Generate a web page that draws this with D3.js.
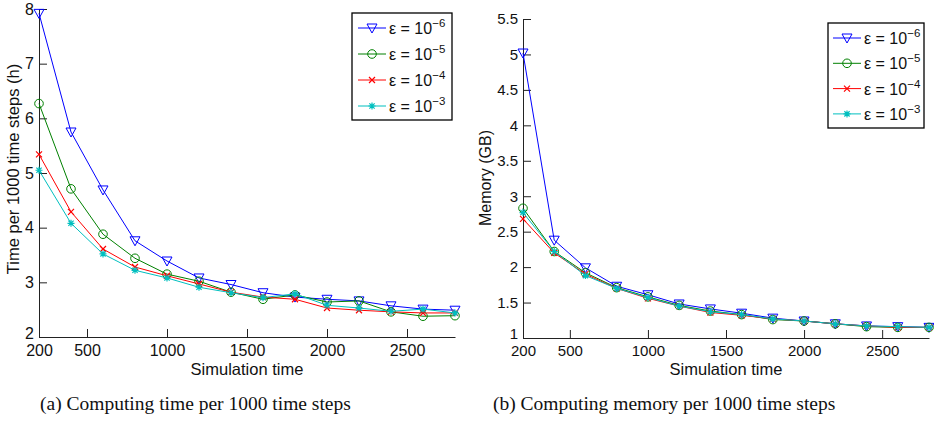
<!DOCTYPE html>
<html><head><meta charset="utf-8">
<script src="https://cdn.jsdelivr.net/npm/d3@7/dist/d3.min.js"></script>
<style>body{margin:0;background:#fff}svg{display:block}</style>
</head><body><svg id="c" width="934" height="424"></svg>
<script>
const simTime = [200,400,600,800,1000,1200,1400,1600,1800,2000,2200,2400,2600,2800];
const seriesNames = ["-6","-5","-4","-3"];
const timeE6 = [7.92,5.75,4.69,3.76,3.39,3.08,2.96,2.81,2.73,2.69,2.66,2.57,2.51,2.49];
const timeE5 = [6.27,4.71,3.88,3.44,3.15,3.02,2.82,2.69,2.77,2.64,2.66,2.46,2.38,2.39];
const timeE4 = [5.34,4.29,3.61,3.28,3.12,2.97,2.82,2.73,2.69,2.53,2.49,2.46,2.44,2.44];
const timeE3 = [5.05,4.08,3.52,3.22,3.08,2.91,2.81,2.72,2.79,2.58,2.53,2.47,2.51,2.44];
const memE6 = [5.02,2.38,1.99,1.73,1.61,1.48,1.41,1.35,1.28,1.24,1.20,1.17,1.16,1.15];
const memE5 = [2.83,2.22,1.92,1.71,1.58,1.46,1.38,1.33,1.26,1.24,1.20,1.16,1.15,1.15];
const memE4 = [2.68,2.20,1.90,1.70,1.56,1.45,1.36,1.32,1.27,1.24,1.20,1.17,1.15,1.15];
const memE3 = [2.77,2.22,1.88,1.70,1.57,1.45,1.37,1.33,1.27,1.24,1.20,1.17,1.16,1.15];
const xTicks = [200,500,1000,1500,2000,2500];
const timeTicks = [2,3,4,5,6,7,8];
const memTicks = [1,1.5,2,2.5,3,3.5,4,4.5,5,5.5];
const colors = ["#0000ff","#008000","#ff0000","#00bfbf"];
const markers = ["tri","circle","x","star"];

const svg = d3.select("#c");
const font = "'Liberation Sans', Arial, sans-serif";

function marker(g, type, x, y, color){
  if(type==="tri"){
    g.append("path").attr("d",`M${x-5},${y-4}L${x+5},${y-4}L${x},${y+5}Z`)
     .attr("fill","none").attr("stroke",color).attr("stroke-width",1);
  } else if(type==="circle"){
    g.append("circle").attr("cx",x).attr("cy",y).attr("r",4.3)
     .attr("fill","none").attr("stroke",color).attr("stroke-width",1);
  } else if(type==="x"){
    const s=3;
    g.append("path").attr("d",`M${x-s},${y-s}L${x+s},${y+s}M${x-s},${y+s}L${x+s},${y-s}`)
     .attr("stroke",color).attr("stroke-width",1.2);
  } else {
    const s=3.5;
    g.append("path").attr("d",`M${x-s},${y}L${x+s},${y}M${x},${y-s}L${x},${y+s}M${x-s*0.75},${y-s*0.75}L${x+s*0.75},${y+s*0.75}M${x-s*0.75},${y+s*0.75}L${x+s*0.75},${y-s*0.75}`)
     .attr("stroke",color).attr("stroke-width",1.2);
  }
}

function panel(opt){
  const x = d3.scaleLinear().domain([200,2800]).range(opt.xr);
  const y = d3.scaleLinear().domain(opt.yd).range(opt.yr);
  const g = svg.append("g");
  const ax = g.append("g").attr("transform",`translate(0,${opt.yr[0]})`)
    .call(d3.axisBottom(x).tickValues(xTicks).tickFormat(d3.format("d")).tickSizeInner(-8).tickSizeOuter(0).tickPadding(7.5));
  const ay = g.append("g").attr("transform",`translate(${opt.xr[0]},0)`)
    .call(d3.axisLeft(y).tickValues(opt.ticks).tickFormat(opt.fmt).tickSizeInner(-8).tickSizeOuter(0).tickPadding(5));
  [ax,ay].forEach(a=>{
    a.selectAll("path,line").attr("stroke","#222").attr("stroke-width",1);
    a.selectAll("text").attr("font-family",font).attr("font-size",opt.fs).attr("fill","#111");
  });
  ax.selectAll("text").attr("dy","0.72em");
  ay.selectAll("text").filter(d=>d===opt.yd[0]).attr("y",-4);
  const line = d3.line().x((d,i)=>x(simTime[i])).y(d=>y(d));
  opt.series.forEach((s,k)=>{
    g.append("path").attr("d",line(s)).attr("fill","none").attr("stroke",colors[k]).attr("stroke-width",1);
    s.forEach((v,i)=>marker(g,markers[k],x(simTime[i]),y(v),colors[k]));
  });
  // axis labels
  g.append("text").attr("x",opt.xlx).attr("y",375)
   .attr("text-anchor","middle").attr("font-family",font).attr("font-size",16.5).attr("fill","#111")
   .text("Simulation time");
  g.append("text").attr("transform",`translate(${opt.ylx},${opt.yly}) rotate(-90)`)
   .attr("text-anchor","middle").attr("font-family",font).attr("font-size",opt.ylfs).attr("fill","#111")
   .text(opt.ylabel);
  // legend
  const L = opt.leg;
  g.append("rect").attr("x",L.x).attr("y",L.y).attr("width",L.w).attr("height",L.h)
   .attr("fill","#fff").attr("stroke","#000").attr("stroke-width",1.3);
  seriesNames.forEach((n,k)=>{
    const yy = L.y0 + k*L.dy;
    g.append("line").attr("x1",L.lx).attr("x2",L.lx+28).attr("y1",yy).attr("y2",yy).attr("stroke",colors[k]).attr("stroke-width",1);
    marker(g,markers[k],L.lx+14,yy,colors[k]);
    const t = g.append("text").attr("x",L.lx+31).attr("y",yy+6).attr("font-family",font).attr("font-size",16).attr("fill","#111");
    t.append("tspan").text("ε = 10");
    t.append("tspan").attr("dy",-7).attr("font-size",11.5).text("−"+n.slice(1));
  });
  // caption
  g.append("text").attr("x",opt.capx).attr("y",410).attr("font-family","'Liberation Serif','DejaVu Serif',serif")
   .attr("font-size",19.5).attr("fill","#111").text(opt.caption);
}

panel({xr:[39,455], yd:[2,8], yr:[337,9], ticks:timeTicks, fmt:d3.format("d"), fs:16,
  series:[timeE6,timeE5,timeE4,timeE3], ylabel:"Time per 1000 time steps (h)", ylx:19, yly:169, ylfs:16.5, xlx:247,
  leg:{x:352,y:13,w:100,h:107,lx:358,y0:28,dy:26}, capx:40, caption:"(a)  Computing time per 1000 time steps"});
panel({xr:[523,929], yd:[1,5.5], yr:[338,19], ticks:memTicks, fmt:d3.format("~g"), fs:15,
  series:[memE6,memE5,memE4,memE3], ylabel:"Memory (GB)", ylx:491, yly:178, ylfs:16, xlx:726,
  leg:{x:828,y:23,w:96,h:105,lx:833,y0:38,dy:25.3}, capx:493, caption:"(b)  Computing memory per 1000 time steps"});
</script></body></html>
